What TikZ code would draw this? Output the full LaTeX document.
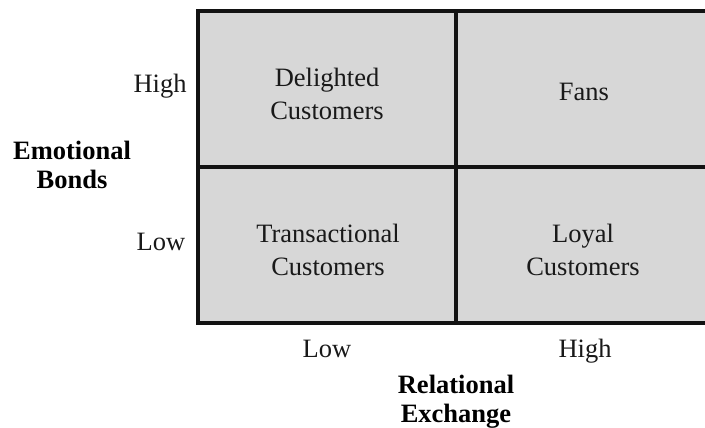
\documentclass[tikz,border=0pt]{standalone}
\usepackage{fontspec}
\setmainfont{Liberation Serif}
\definecolor{cellgray}{HTML}{D7D7D7}
\definecolor{gridline}{HTML}{121212}
\begin{document}
\begin{tikzpicture}[x=1pt,y=-1pt,
  cell/.style={font=\fontsize{26.5}{33}\selectfont, align=center, anchor=base, text=black!90},
  axislabel/.style={font=\fontsize{26.5}{33}\selectfont, anchor=base, text=black!90},
  axistitle/.style={font=\fontsize{26.5}{29}\selectfont\bfseries, align=center, anchor=base, text=black}]
  \useasboundingbox (0,0) rectangle (705,428);
  % the 2x2 matrix
  \draw[line width=4pt, draw=gridline, fill=cellgray] (198,11) rectangle (714,323);
  \coordinate (midT) at (456,11);
  \coordinate (midB) at (456,323);
  \coordinate (midL) at (198,167);
  \coordinate (midR) at (714,167);
  \draw[line width=4pt, draw=gridline] (midT) -- (midB);
  \draw[line width=4pt, draw=gridline] (midL) -- (midR);
  % quadrant labels (base anchor sits on the last line)
  \node[cell] (delighted) at (327,120) {Delighted\\Customers};
  \node[cell] (fans) at (584,101) {Fans};
  \node[cell] (transactional) at (328,275) {Transactional\\Customers};
  \node[cell] (loyal) at (583,275) {Loyal\\Customers};
  % vertical axis
  \node[axislabel] (yhigh) at (160,93) {High};
  \node[axislabel] (ylow) at (161,250) {Low};
  \node[axistitle] (ytitle) at (72,188) {Emotional\\Bonds};
  % horizontal axis
  \node[axislabel] (xlow) at (327,357) {Low};
  \node[axislabel] (xhigh) at (585,357) {High};
  \node[axistitle] (xtitle) at (456,422) {Relational\\Exchange};
\end{tikzpicture}
\end{document}
